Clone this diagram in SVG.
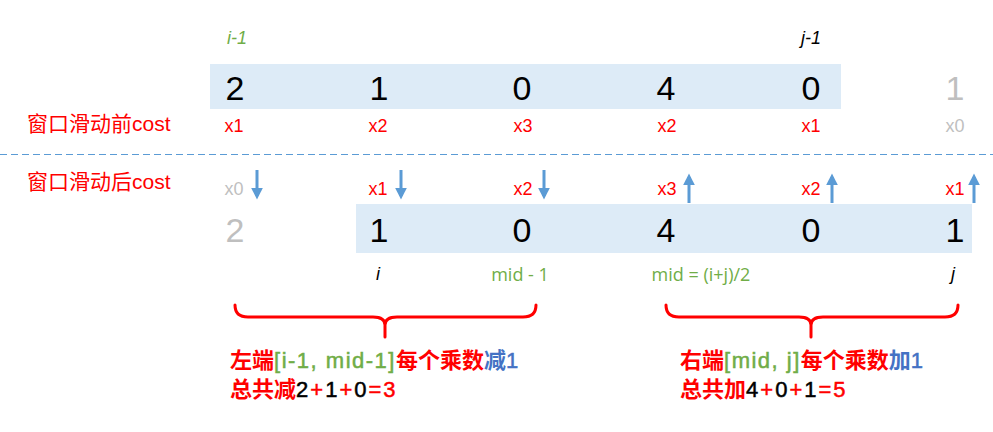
<svg xmlns="http://www.w3.org/2000/svg" width="993" height="432" viewBox="0 0 993 432">
<style>
.num{font-family:"Liberation Sans","Noto Sans",sans-serif;font-size:34px;text-anchor:middle;fill:#000}
.xl{font-family:"Liberation Sans","Noto Sans",sans-serif;font-size:18px;text-anchor:middle;fill:#ff0000}
.idx{font-family:"Liberation Sans","Noto Sans",sans-serif;font-size:18px;text-anchor:middle;font-style:italic;fill:#000}
.mid{font-family:"Open Sans","Liberation Sans",sans-serif;font-size:18px;text-anchor:middle;fill:#70ad47}
.cap{font-family:"Liberation Sans","Noto Sans CJK SC",sans-serif;font-size:21px;fill:#ff0000}
.note{font-family:"Noto Sans CJK SC",sans-serif;font-size:22px;font-weight:bold;fill:#ff0000}
.lat{font-family:"Liberation Sans","Noto Sans",sans-serif;font-size:22px;font-weight:normal;stroke:#ff0000;stroke-width:0.5;letter-spacing:1.5px}
.big{letter-spacing:2px}
.gray{fill:#bfbfbf}
.g{fill:#70ad47}.b{fill:#4472c4}.k{fill:#000}
.lat.g{stroke:#70ad47}.lat.b{stroke:#4472c4}.lat.k{stroke:#000}
.arr{stroke:#5b9bd5;stroke-width:3;fill:none}
.brace{stroke:#ff0000;stroke-width:3;fill:none;stroke-linecap:round}
.cell{fill:#ddebf7}
</style>
<defs>
<marker id="ah" viewBox="0 0 10 10" refX="7" refY="5" markerWidth="4" markerHeight="4" markerUnits="strokeWidth" orient="auto">
<path d="M0,0 L10,5 L0,10 z" fill="#5b9bd5"/>
</marker>
</defs>
<g id="before">
<rect class="cell" x="210" y="64" width="631" height="45"/>
<text class="idx g" x="237" y="44">i-1</text>
<text class="idx" x="811" y="44">j-1</text>
<text class="num" x="235" y="100">2</text>
<text class="num" x="379" y="100">1</text>
<text class="num" x="522" y="100">0</text>
<text class="num" x="666" y="100">4</text>
<text class="num" x="811" y="100">0</text>
<text class="num gray" x="955" y="100">1</text>
<text class="cap" x="27" y="131">窗口滑动前cost</text>
<text class="xl" x="234" y="132">x1</text>
<text class="xl" x="378" y="132">x2</text>
<text class="xl" x="523" y="132">x3</text>
<text class="xl" x="667" y="132">x2</text>
<text class="xl" x="811" y="132">x1</text>
<text class="xl gray" x="955" y="132">x0</text>
</g>
<line x1="0" y1="154.500" x2="993" y2="154.500" stroke="#5b9bd5" stroke-width="1" stroke-dasharray="7,4"/>
<g id="after">
<rect class="cell" x="356" y="204" width="616" height="49"/>
<text class="cap" x="27" y="189">窗口滑动后cost</text>
<text class="xl gray" x="234" y="195">x0</text>
<text class="xl" x="378" y="195">x1</text>
<text class="xl" x="523" y="195">x2</text>
<text class="xl" x="667" y="195">x3</text>
<text class="xl" x="811" y="195">x2</text>
<text class="xl" x="955" y="195">x1</text>
<text class="num gray" x="235" y="242">2</text>
<text class="num" x="379" y="242">1</text>
<text class="num" x="522" y="242">0</text>
<text class="num" x="666" y="242">4</text>
<text class="num" x="811" y="242">0</text>
<text class="num" x="955" y="242">1</text>
<text class="idx" x="378" y="280">i</text>
<text class="mid" x="520" y="281">mid - 1</text>
<text class="mid" x="701" y="281">mid = (i+j)/2</text>
<text class="idx" x="953" y="280">j</text>
</g>
<g id="connectors">
<line class="arr" x1="257" y1="170" x2="257" y2="196" marker-end="url(#ah)"/>
<line class="arr" x1="401" y1="170" x2="401" y2="196" marker-end="url(#ah)"/>
<line class="arr" x1="544" y1="170" x2="544" y2="196" marker-end="url(#ah)"/>
<line class="arr" x1="689" y1="203" x2="689" y2="177" marker-end="url(#ah)"/>
<line class="arr" x1="832" y1="203" x2="832" y2="177" marker-end="url(#ah)"/>
<line class="arr" x1="974" y1="203" x2="974" y2="177" marker-end="url(#ah)"/>
</g>
<g id="left-brace">
<path class="brace" d="M235,305 Q235,317 248,317 L373,317 Q385,317 385,325 Q385,317 397,317 L523,317 Q536,317 536,305 M385,325 L385,337"/>
<text class="note" x="230" y="368">左端<tspan class="lat g">[i-1, mid-1]</tspan>每个乘数<tspan class="b">减</tspan><tspan class="lat b">1</tspan></text>
<text class="note" x="230" y="397">总共减<tspan class="lat big k">2</tspan><tspan class="lat big">+</tspan><tspan class="lat big k">1</tspan><tspan class="lat big">+</tspan><tspan class="lat big k">0</tspan><tspan class="lat big">=3</tspan></text>
</g>
<g id="right-brace">
<path class="brace" d="M666,305 Q666,317 679,317 L799,317 Q811,317 811,325 Q811,317 823,317 L945,317 Q958,317 958,305 M811,325 L811,337"/>
<text class="note" x="680" y="368">右端<tspan class="lat g">[mid, j]</tspan>每个乘数<tspan class="b">加</tspan><tspan class="lat b">1</tspan></text>
<text class="note" x="680" y="397">总共加<tspan class="lat big k">4</tspan><tspan class="lat big">+</tspan><tspan class="lat big k">0</tspan><tspan class="lat big">+</tspan><tspan class="lat big k">1</tspan><tspan class="lat big">=5</tspan></text>
</g>
</svg>
